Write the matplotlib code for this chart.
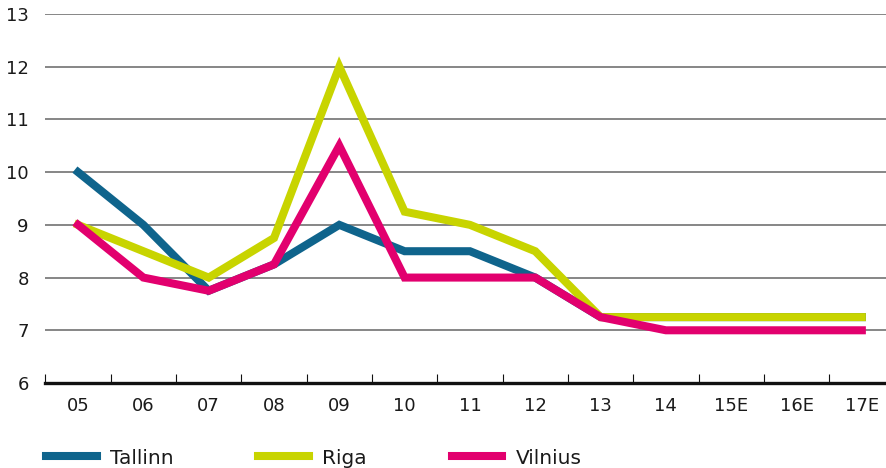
import numpy as np
import matplotlib.pyplot as plt

# data
years = ["05", "06", "07", "08", "09", "10", "11", "12", "13", "14", "15E", "16E", "17E"]
tallinn = [10, 9, 7.75, 8.25, 9, 8.5, 8.5, 8, 7.25, 7.25, 7.25, 7.25, 7.25]
riga = [9, 8.5, 8, 8.75, 12, 9.25, 9, 8.5, 7.25, 7.25, 7.25, 7.25, 7.25]
vilnius = [9, 8, 7.75, 8.25, 10.5, 8, 8, 8, 7.25, 7, 7, 7, 7]

plt.rcParams["font.family"] = ["DejaVu Sans"]

fig = plt.figure(figsize=(8.86, 4.68), dpi=100)
ax = fig.add_axes([45.4 / 886, 85 / 468, (886 - 45.4) / 886, 369 / 468])

x = np.arange(len(years))
ax.plot(x, tallinn, color="#0f648c", lw=5.8, label="Tallinn", solid_joinstyle="miter")
ax.plot(x, riga, color="#c8d400", lw=5.8, label="Riga", solid_joinstyle="miter")
ax.plot(x, vilnius, color="#e2006e", lw=5.8, label="Vilnius", solid_joinstyle="miter")

ax.set_xlim(-0.5, 12.37)
ax.set_ylim(6, 13)
ax.set_yticks(range(6, 14))
ax.set_xticks(x)
ax.set_xticklabels(years)
ax.set_xticks(np.arange(-0.5, 12, 1), minor=True)

for s in ["top", "right", "left"]:
    ax.spines[s].set_visible(False)
ax.spines["bottom"].set_linewidth(2.4)
ax.spines["bottom"].set_color("#111111")

ax.tick_params(axis="x", which="major", length=0, pad=10, labelsize=13, colors="#1a1a1a")
ax.tick_params(axis="x", which="minor", direction="in", length=6.5, width=0.8, color="#111111")
ax.tick_params(axis="y", length=0, pad=12, labelsize=13, colors="#1a1a1a")
ax.yaxis.grid(True, color="#666666", lw=1.1)
ax.set_axisbelow(True)

fig.legend(loc="center left", bbox_to_anchor=(46 / 886, 10 / 468), ncol=3, frameon=False,
           fontsize=14.5, handlelength=2.53, handletextpad=0.65, columnspacing=4.2,
           borderpad=0, borderaxespad=0, labelcolor="#1a1a1a")

fig.savefig("out.png", dpi=100)
